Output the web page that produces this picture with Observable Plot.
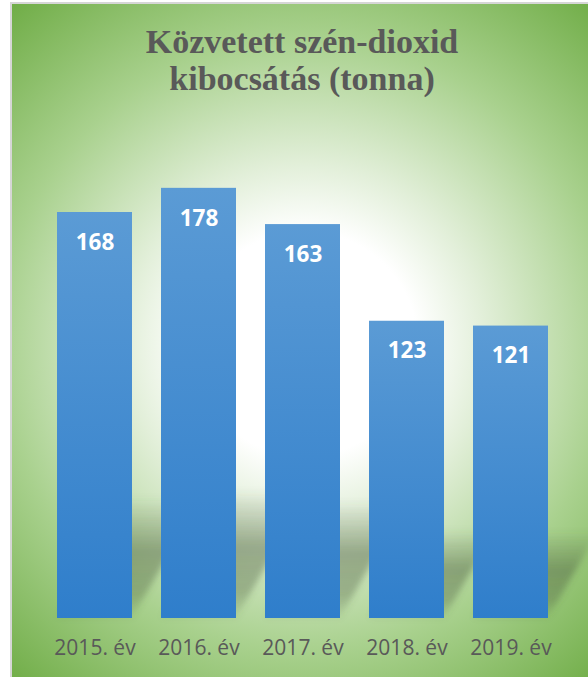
<!DOCTYPE html>
<html>
<head>
<meta charset="utf-8">
<script src="https://cdn.jsdelivr.net/npm/d3@7"></script>
<script src="https://cdn.jsdelivr.net/npm/@observablehq/plot@0.6"></script>
<style>
  html, body { margin: 0; padding: 0; background: #ffffff; }
  #page { position: relative; width: 588px; height: 677px; overflow: hidden; }
  #frame {
    position: absolute; left: 10px; top: 2px; width: 600px; height: 700px;
    border-left: 2px solid #d6d6d6; border-top: 2px solid #d6d6d6;
    background: radial-gradient(circle farthest-corner at 293px 340px,
      #ffffff 0%, #ffffff 25%, #e2efd9 40%, #a9d18e 68%, #70ad47 100%);
    background-size: 576px 673px; background-repeat: no-repeat;
  }
  #title {
    position: absolute; left: 12px; top: 23px; width: 580px; text-align: center;
    font-family: "Liberation Serif", "Times New Roman", serif; font-weight: bold;
    font-size: 34px; line-height: 37px; color: #595959;
  }
  #chart { position: absolute; left: 0; top: 0; width: 588px; height: 677px; }
  #err { position: absolute; left: 20px; top: 150px; color: red; font: 12px monospace; white-space: pre-wrap; width: 540px; }
</style>
</head>
<body>
<div id="page">
  <div id="frame"></div>
  <div id="chart"></div>
  <div id="title">Közvetett szén-dioxid<br>kibocsátás (tonna)</div>
  <div id="err"></div>
</div>
<script>
const years = ["2015. év", "2016. év", "2017. év", "2018. év", "2019. év"];
const values = [168, 178, 163, 123, 121];

try {
const data = years.map((year, i) => ({year, value: values[i]}));

const svg = Plot.plot({
  width: 588,
  height: 677,
  marginTop: 183,
  marginBottom: 59,
  marginLeft: 26,
  marginRight: 9,
  x: {domain: years, padding: 0.275, tickSize: 0, tickPadding: 22, label: null},
  y: {domain: [0, 180], axis: null},
  style: {background: "transparent", color: "#595959", fontFamily: "'Open Sans', sans-serif", fontSize: "21px", overflow: "visible"},
  marks: [
    Plot.barY(data, {x: "year", y: "value", fill: "#4d5e40", fillOpacity: 0.4}),
    Plot.barY(data, {x: "year", y: "value", fill: "#3a86cf"}),
    Plot.text(data, {x: "year", y: "value", text: d => String(d.value), dy: 30, fill: "white", fontWeight: "bold", fontSize: 22.5, fontFamily: "'Open Sans', sans-serif"})
  ]
});

const s = d3.select(svg);
const defs = s.insert("defs", ":first-child");
const bg = defs.append("linearGradient").attr("id", "barGrad").attr("x1", 0).attr("y1", 0).attr("x2", 0).attr("y2", 1);
bg.append("stop").attr("offset", 0).attr("stop-color", "#5b9bd5");
bg.append("stop").attr("offset", 1).attr("stop-color", "#2f7ecb");
const sg = defs.append("linearGradient").attr("id", "shadowGrad").attr("x1", 0).attr("y1", 0).attr("x2", 0).attr("y2", 1);
sg.append("stop").attr("offset", 0).attr("stop-color", "#4d5e40").attr("stop-opacity", 0);
sg.append("stop").attr("offset", 0.45).attr("stop-color", "#4d5e40").attr("stop-opacity", 0.45);
sg.append("stop").attr("offset", 0.8).attr("stop-color", "#4d5e40").attr("stop-opacity", 0.35);
sg.append("stop").attr("offset", 1).attr("stop-color", "#4d5e40").attr("stop-opacity", 0.05);
defs.append("filter").attr("id", "blur").attr("x", "-50%").attr("y", "-50%").attr("width", "200%").attr("height", "200%")
  .append("feGaussianBlur").attr("stdDeviation", 3);

const barGroups = s.selectAll("g[aria-label='bar']").nodes();
const shadowG = d3.select(barGroups[0]);
const mainG = d3.select(barGroups[1]);
shadowG.selectAll("rect").attr("fill", "url(#shadowGrad)");
mainG.selectAll("rect").attr("fill", "url(#barGrad)");
shadowG.attr("fill", "url(#shadowGrad)").attr("fill-opacity", null).attr("filter", "url(#blur)");
mainG.attr("fill", "url(#barGrad)");
shadowG.selectAll("rect").each(function() {
  const y = +this.getAttribute("y"), h = +this.getAttribute("height");
  const yb = y + h;
  this.setAttribute("transform", `translate(0,${yb}) skewX(-30) scale(1,0.3) translate(0,${-yb})`);
});

svg.style.position = "absolute";
svg.style.left = "0px";
svg.style.top = "0px";
document.getElementById("chart").appendChild(svg);
} catch (e) {
  document.getElementById("err").textContent = String(e && e.stack || e);
}
</script>
</body>
</html>
